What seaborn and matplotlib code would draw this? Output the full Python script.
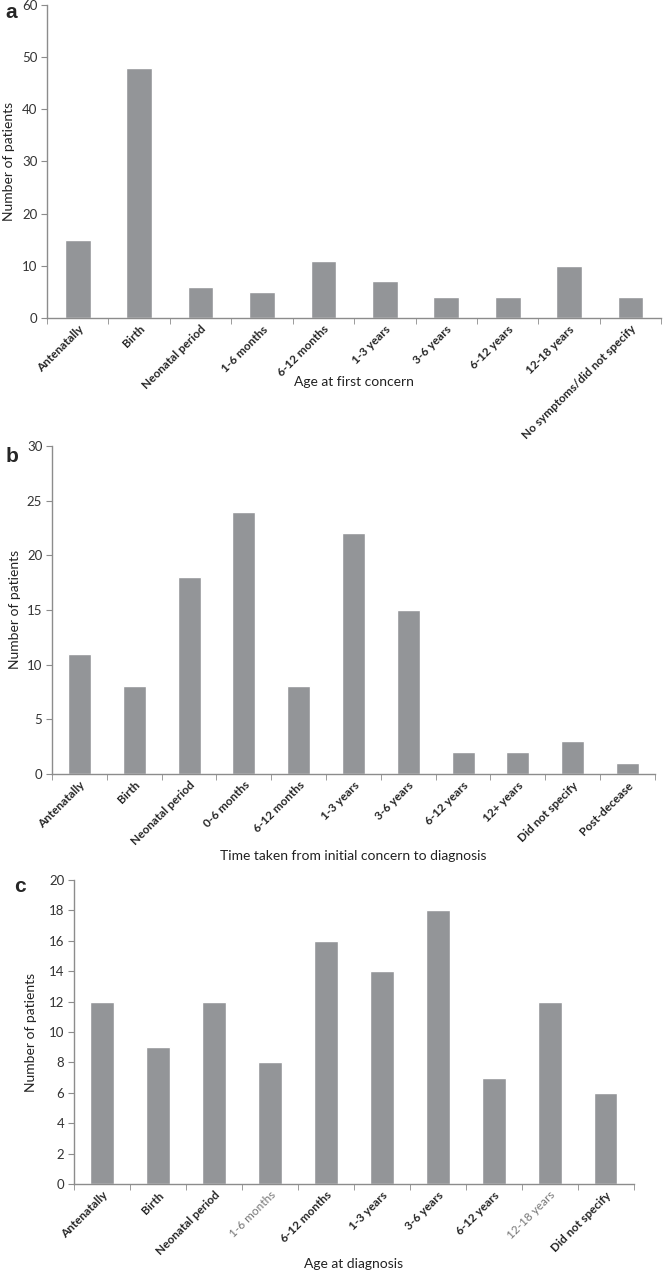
import matplotlib
matplotlib.use("Agg")
import matplotlib.pyplot as plt
import seaborn as sns
import numpy as np

# panel a
cats_a = ['Antenatally', 'Birth', 'Neonatal period', '1-6 months', '6-12 months',
          '1-3 years', '3-6 years', '6-12 years', '12-18 years', 'No symptoms/did not specify']
vals_a = [15, 48, 6, 5, 11, 7, 4, 4, 10, 4]

# panel b
cats_b = ['Antenatally', 'Birth', 'Neonatal period', '0-6 months', '6-12 months',
          '1-3 years', '3-6 years', '6-12 years', '12+ years', 'Did not specify', 'Post-decease']
vals_b = [11, 8, 18, 24, 8, 22, 15, 2, 2, 3, 1]

# panel c
cats_c = ['Antenatally', 'Birth', 'Neonatal period', '1-6 months', '6-12 months',
          '1-3 years', '3-6 years', '6-12 years', '12-18 years', 'Did not specify']
vals_c = [12, 9, 12, 8, 16, 14, 18, 7, 12, 6]
light_c = ['1-6 months', '12-18 years']

sns.set_style("white")
plt.rcParams['font.family'] = ['Lato', 'DejaVu Sans']

BAR = '#939598'
AXC = '#8c8c8c'

fig = plt.figure(figsize=(6.64, 12.74), dpi=100)


def panel(rect, cats, vals, ymax, step, xlabel, letter, letter_xy, xlab_y, ylab_x, light=()):
    ax = fig.add_axes(rect)
    sns.barplot(x=cats, y=vals, color=BAR, width=0.42, saturation=1, ax=ax)
    ax.set_ylim(0, ymax)
    ax.set_yticks(np.arange(0, ymax + 1, step))
    ax.set_xlim(-0.5, len(cats) - 0.5)
    sns.despine(ax=ax)
    for s in ['left', 'bottom']:
        ax.spines[s].set_color(AXC)
        ax.spines[s].set_linewidth(1.0)
    # category boundary ticks
    ax.set_xticks(np.arange(-0.5, len(cats), 1.0), minor=True)
    ax.tick_params(axis='x', which='minor', length=4, color=AXC, direction='out', bottom=True)
    ax.tick_params(axis='x', which='major', length=0, pad=4)
    ax.tick_params(axis='y', length=4, color=AXC, direction='out', left=True,
                   labelsize=9.5, labelcolor='#333333', pad=3)
    ax.set_xticks(range(len(cats)))
    ax.set_xticklabels(cats, rotation=45, ha='right', rotation_mode='anchor',
                       fontsize=8.5, fontweight='bold')
    for t in ax.get_xticklabels():
        if t.get_text() in light:
            t.set_fontweight('normal')
            t.set_color('#777777')
    ax.set_xlabel(xlabel, fontsize=10, color='#222222')
    ax.set_ylabel('Number of patients', fontsize=10, color='#222222')
    ax.xaxis.set_label_coords(0.5, xlab_y)
    ax.yaxis.set_label_coords(ylab_x, 0.5)
    fig.text(letter_xy[0], letter_xy[1], letter, fontsize=15, fontweight='bold',
             ha='left', va='top', family=['Liberation Sans', 'DejaVu Sans'])
    return ax


panel([0.0708, 0.7504, 0.925, 0.2457], cats_a, vals_a, 60, 10,
      'Age at first concern', 'a', (0.008, 0.998), -0.185, -0.052)
panel([0.0783, 0.3925, 0.908, 0.2575], cats_b, vals_b, 30, 5,
      'Time taken from initial concern to diagnosis', 'b', (0.008, 0.649), -0.232, -0.051)
panel([0.1114, 0.0706, 0.843, 0.2386], cats_c, vals_c, 20, 2,
      'Age at diagnosis', 'c', (0.022, 0.312), -0.243, -0.066, light=light_c)

fig.savefig('out.png', dpi=100)
